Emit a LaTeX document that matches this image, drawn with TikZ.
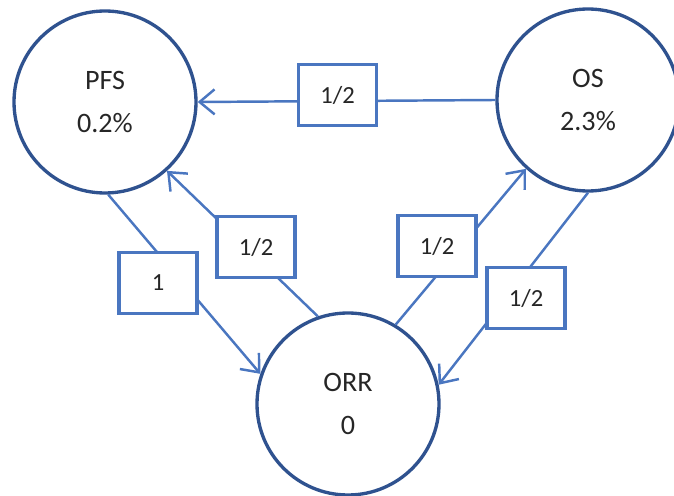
\documentclass[tikz,border=0pt]{standalone}
\usepackage{fontspec}
\setmainfont{Carlito}
\usetikzlibrary{arrows.meta}
\definecolor{ringblue}{HTML}{2F528F}
\definecolor{edgeblue}{HTML}{4A76C0}
\begin{document}
\begin{tikzpicture}[
    state/.style={circle, draw=ringblue, line width=1.9pt, minimum size=3.64cm, align=center, text=black!85, font=\fontsize{16}{24.5}\selectfont},
    weight/.style={draw=edgeblue, line width=2pt, fill=white, minimum width=1.56cm, minimum height=1.22cm, text=black!85, font=\fontsize{14}{16}\selectfont},
    flow/.style={edgeblue, line width=1.4pt, -{Straight Barb[length=3mm,width=5mm]}}
]
    \useasboundingbox (0,0) rectangle (13.48,9.9);
    \node[state] (PFS) at (2.10,7.86) {PFS\\0.2\%};
    \node[state] (OS) at (11.76,7.90) {OS\\2.3\%};
    \node[state] (ORR) at (6.96,1.82) {ORR\\0};
    % connectors run circle to circle, weight boxes sit on top
    \draw[flow] (OS.west) -- (PFS.east);
    \draw[flow] (PFS.-88) -- (ORR.161);
    \draw[flow] (ORR.109) -- (PFS.-48);
    \draw[flow] (ORR.59) -- (OS.-132);
    \draw[flow] (OS.-90) -- (ORR.12);
    \node[weight] (halfTop) at (6.75,8.00) {1/2};
    \node[weight] (one) at (3.16,4.24) {1};
    \node[weight] (halfLeft) at (5.12,4.96) {1/2};
    \node[weight] (halfMid) at (8.74,4.98) {1/2};
    \node[weight] (halfRight) at (10.52,3.94) {1/2};
\end{tikzpicture}
\end{document}
